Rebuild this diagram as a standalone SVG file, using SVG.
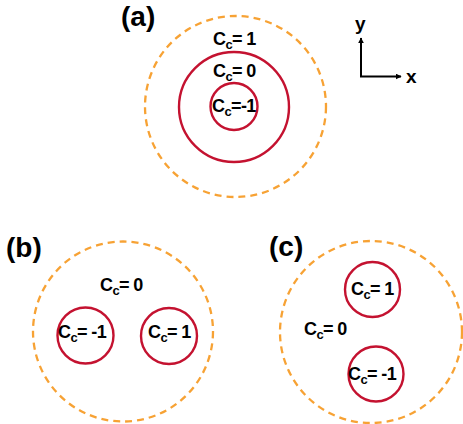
<svg xmlns="http://www.w3.org/2000/svg" width="463" height="424" viewBox="0 0 463 424">
<style>
.dash{fill:none;stroke:#f7a234;stroke-width:2.3;stroke-dasharray:7 5}
.red{fill:none;stroke:#c41230;stroke-width:2.4}
.lbl{font-family:"Liberation Sans",Arial,sans-serif;font-weight:bold;font-size:18px;letter-spacing:-0.6px;fill:#000}
.sub{font-size:13px}
.pan{font-family:"Liberation Sans",Arial,sans-serif;font-weight:bold;font-size:28px;fill:#000}
.axl{font-family:"Liberation Sans",Arial,sans-serif;font-weight:bold;font-size:19px;fill:#000}
.ax{stroke:#000;stroke-width:2;fill:none}
</style>
<defs>
<marker id="ah" viewBox="0 0 10 10" refX="9" refY="5" markerWidth="6" markerHeight="6" orient="auto" markerUnits="userSpaceOnUse">
<path d="M0,0 L10,5 L0,10 z" fill="#000"/>
</marker>
</defs>
<g id="panel-a">
<text class="pan" x="121" y="26">(a)</text>
<circle id="a-outer" class="dash" cx="235.5" cy="106.5" r="90.5"/>
<circle id="a-mid" class="red" cx="234" cy="107" r="55"/>
<circle id="a-inner" class="red" cx="234" cy="106.5" r="23.5"/>
<text class="lbl" x="213" y="45">C<tspan class="sub" dy="4">c</tspan><tspan dy="-4">= 1</tspan></text>
<text class="lbl" x="213" y="77">C<tspan class="sub" dy="4">c</tspan><tspan dy="-4">= 0</tspan></text>
<text class="lbl" x="212" y="111.5">C<tspan class="sub" dy="4">c</tspan><tspan dy="-4">=-1</tspan></text>
</g>
<g id="axes">
<line class="ax" x1="361" y1="77" x2="361" y2="38" marker-end="url(#ah)"/>
<line class="ax" x1="360" y1="76.5" x2="401" y2="76.5" marker-end="url(#ah)"/>
<text class="axl" x="355" y="30">y</text>
<text class="axl" x="406" y="83">x</text>
</g>
<g id="panel-b">
<text class="pan" x="6" y="257">(b)</text>
<circle id="b-outer" class="dash" cx="123" cy="331.5" r="90"/>
<circle id="b-left" class="red" cx="85.5" cy="335.5" r="28"/>
<circle id="b-right" class="red" cx="169" cy="336" r="28"/>
<text class="lbl" x="100" y="291">C<tspan class="sub" dy="4">c</tspan><tspan dy="-4">= 0</tspan></text>
<text class="lbl" x="58" y="338">C<tspan class="sub" dy="4">c</tspan><tspan dy="-4">= -1</tspan></text>
<text class="lbl" x="148" y="338">C<tspan class="sub" dy="4">c</tspan><tspan dy="-4">= 1</tspan></text>
</g>
<g id="panel-c">
<text class="pan" x="269" y="256">(c)</text>
<circle id="c-outer" class="dash" cx="371" cy="332" r="91"/>
<circle id="c-top" class="red" cx="372.5" cy="289.5" r="27.5"/>
<circle id="c-bottom" class="red" cx="376" cy="374" r="27.5"/>
<text class="lbl" x="351" y="295">C<tspan class="sub" dy="4">c</tspan><tspan dy="-4">= 1</tspan></text>
<text class="lbl" x="304" y="335">C<tspan class="sub" dy="4">c</tspan><tspan dy="-4">= 0</tspan></text>
<text class="lbl" x="348" y="380">C<tspan class="sub" dy="4">c</tspan><tspan dy="-4">= -1</tspan></text>
</g>
</svg>
